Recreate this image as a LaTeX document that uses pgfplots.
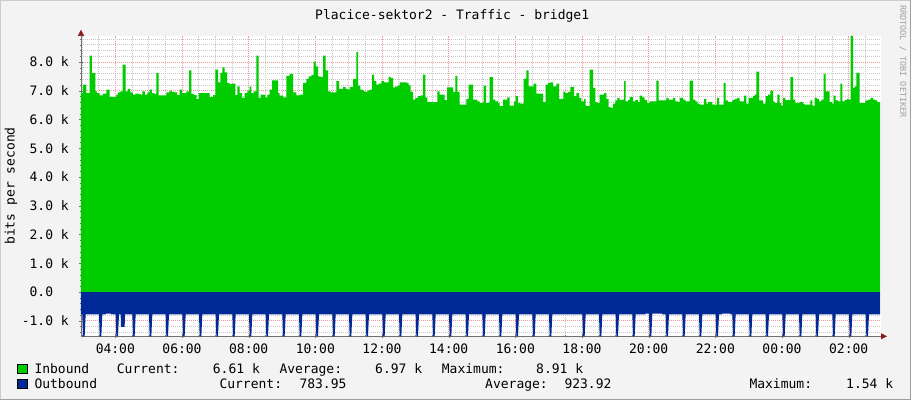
\documentclass[border=0pt]{standalone}
\usepackage{fontspec}
\setmainfont{DejaVu Sans Mono}
\usepackage{pgfplots}
\pgfplotsset{compat=1.18}
\usetikzlibrary{arrows.meta}

\definecolor{rrdbg}{HTML}{F3F3F3}
\definecolor{inbound}{HTML}{00CC00}
\definecolor{outbound}{HTML}{002A97}
\definecolor{gridminor}{HTML}{C8C8C8}
\definecolor{gridmajor}{HTML}{F29898}
\definecolor{axisgray}{HTML}{707070}
\definecolor{arrowred}{HTML}{8B1A1A}
\definecolor{wmark}{HTML}{A0A0A0}

\newcommand\rrdfont{\fontsize{13}{15}\selectfont}

\begin{document}
\begin{tikzpicture}[x=1pt,y=1pt]
\useasboundingbox (0,0) rectangle (911,400);
\fill[rrdbg] (0,0) rectangle (911,400);
\draw[line width=1pt,color=gray!40] (0.5,0) -- (0.5,399.5) -- (911,399.5);
\draw[line width=1.5pt,color=gray!75] (0,0.75) -- (910.25,0.75) -- (910.25,400);

\begin{axis}[
    at={(81pt,63.7pt)}, anchor=south west,
    scale only axis, width=800pt, height=300.5pt,
    xmin=2.97, xmax=26.97, ymin=-1.54, ymax=8.91,
    axis background/.style={fill=white},
    axis x line=bottom, axis y line=left,
    x axis line style={draw=axisgray, shorten >=-6pt, -{Triangle[length=6pt,width=6pt,color=arrowred]}},
    y axis line style={draw=axisgray, shorten >=-6pt, -{Triangle[length=6pt,width=6pt,color=arrowred]}},
    xtick={4,6,...,26},
    xticklabels={04:00,06:00,08:00,10:00,12:00,14:00,16:00,18:00,20:00,22:00,00:00,02:00},
    minor xtick={3,3.5,...,26.5},
    ytick={-1,0,1,2,3,4,5,6,7,8},
    yticklabels={-1.0 k,0.0\hphantom{kk},1.0 k,2.0 k,3.0 k,4.0 k,5.0 k,6.0 k,7.0 k,8.0 k},
    minor ytick={-1.4,-1.2,...,8.81},
    tick label style={font=\rrdfont, inner sep=0pt},
    xticklabel style={anchor=north, yshift=-5.4pt},
    yticklabel style={anchor=east, xshift=-10pt},
    tick style={draw=axisgray},
    major tick length=4pt, minor tick length=2pt, tick align=center,
    grid=both,
    minor grid style={draw=gridminor, line width=0.6pt, dash pattern=on 1pt off 1pt},
    major grid style={draw=gridmajor, line width=0.6pt, dash pattern=on 1pt off 1pt},
    clip=true,
]

% Inbound, k bits per second, 5-minute samples (value held to next sample)
\addplot[const plot mark left, draw=none, fill=inbound] coordinates {
(2.97,0) (2.97,6.92) (3.03,7.21) (3.13,6.92) (3.23,8.22) (3.30,7.61) (3.40,6.98) (3.45,6.92)
(3.53,6.84) (3.63,6.90) (3.73,7.04) (3.83,6.79) (4.03,6.86) (4.08,6.94) (4.15,6.98) (4.22,7.91)
(4.31,6.98) (4.38,7.06) (4.45,6.94) (4.53,6.86) (4.60,6.90) (4.68,6.89) (4.75,6.86) (4.81,6.98)
(4.89,6.86) (4.96,6.94) (5.03,7.04) (5.10,6.92) (5.16,6.90) (5.23,7.62) (5.30,6.84) (5.53,6.94)
(5.63,7.00) (5.70,6.96) (5.78,6.94) (5.85,6.85) (5.93,7.04) (6.00,6.92) (6.13,6.98) (6.21,7.71)
(6.28,6.89) (6.36,6.85) (6.44,6.71) (6.50,6.92) (6.83,6.78) (6.93,6.85) (7.00,7.73) (7.08,7.29)
(7.15,7.62) (7.21,7.81) (7.28,7.64) (7.35,7.27) (7.43,7.23) (7.50,7.25) (7.60,6.85) (7.66,7.15)
(7.73,6.92) (7.80,6.75) (7.88,6.92) (7.96,7.00) (8.03,7.15) (8.08,6.92) (8.15,6.98) (8.23,8.22)
(8.30,6.75) (8.36,6.86) (8.50,6.77) (8.56,6.86) (8.63,7.04) (8.70,7.36) (8.88,6.92) (8.93,6.83)
(9.03,6.77) (9.13,7.52) (9.23,7.59) (9.33,6.94) (9.43,6.84) (9.53,6.86) (9.63,7.27) (9.73,7.41)
(9.80,7.50) (9.88,7.54) (9.95,8.01) (10.01,7.85) (10.08,7.50) (10.15,7.48) (10.23,8.22) (10.31,7.71)
(10.38,6.98) (10.45,6.94) (10.63,7.33) (10.71,7.06) (10.83,7.13) (10.91,7.06) (10.98,7.04) (11.03,7.13)
(11.13,7.41) (11.23,8.34) (11.28,7.18) (11.35,7.04) (11.43,6.99) (11.48,6.96) (11.56,7.01) (11.63,7.04)
(11.70,7.56) (11.76,7.33) (11.83,7.21) (11.90,7.25) (11.98,7.33) (12.06,7.29) (12.20,7.48) (12.26,7.45)
(12.33,7.12) (12.40,7.15) (12.48,7.18) (12.53,7.29) (12.73,7.27) (12.80,7.19) (12.86,6.97) (12.93,6.69)
(13.00,6.75) (13.08,6.81) (13.16,6.84) (13.23,7.56) (13.30,6.77) (13.36,6.60) (13.66,6.98) (13.73,6.86)
(13.88,6.67) (13.95,7.12) (14.13,6.96) (14.20,7.52) (14.26,6.96) (14.33,6.52) (14.53,6.72) (14.60,7.21)
(14.73,6.69) (14.86,6.63) (14.93,6.57) (15.00,6.59) (15.05,7.18) (15.12,6.57) (15.18,6.59) (15.23,7.47)
(15.33,6.69) (15.40,6.63) (15.48,6.57) (15.53,6.46) (15.63,6.69) (15.76,6.77) (15.83,6.48) (15.96,6.63)
(16.01,6.81) (16.08,6.57) (16.15,6.55) (16.25,7.42) (16.33,7.71) (16.40,7.15) (16.55,7.25) (16.63,6.90)
(16.83,6.60) (16.91,7.21) (16.98,7.27) (17.05,7.29) (17.13,7.15) (17.23,7.25) (17.31,6.72) (17.44,6.97)
(17.50,6.92) (17.58,6.96) (17.65,7.13) (17.76,6.81) (17.83,6.92) (17.91,6.75) (17.98,6.63) (18.06,6.71)
(18.11,6.48) (18.16,6.46) (18.23,7.73) (18.33,7.10) (18.40,6.60) (18.46,6.57) (18.53,6.86) (18.66,6.92)
(18.73,6.71) (18.80,6.43) (18.86,6.40) (18.93,6.55) (19.00,6.66) (19.06,6.75) (19.13,6.67) (19.20,6.69)
(19.26,7.33) (19.31,6.63) (19.38,6.67) (19.43,6.78) (19.53,6.63) (19.60,6.67) (19.68,6.60) (19.73,6.83)
(19.81,6.77) (19.88,6.67) (19.95,6.57) (20.03,6.63) (20.23,7.35) (20.30,6.66) (20.53,6.75) (20.60,6.69)
(20.73,6.75) (20.80,6.63) (20.88,6.60) (20.93,6.75) (21.03,6.69) (21.10,6.63) (21.23,7.35) (21.33,6.69)
(21.40,6.63) (21.46,6.55) (21.53,6.52) (21.66,6.71) (21.73,6.55) (21.78,6.60) (21.91,6.52) (22.05,6.75)
(22.11,6.52) (22.25,7.27) (22.31,6.66) (22.38,6.60) (22.51,6.67) (22.58,6.72) (22.66,6.75) (22.73,6.63)
(22.86,6.83) (22.93,6.55) (23.00,6.75) (23.13,6.81) (23.18,6.86) (23.23,7.66) (23.31,6.66) (23.43,6.55)
(23.51,6.81) (23.58,6.86) (23.65,7.00) (23.73,6.63) (23.78,6.57) (23.86,6.86) (23.93,6.57) (23.98,6.48)
(24.03,6.75) (24.10,6.67) (24.25,7.47) (24.33,6.69) (24.40,6.57) (24.53,6.60) (24.63,6.55) (24.68,6.52)
(24.85,6.66) (24.91,6.48) (24.98,6.75) (25.05,6.71) (25.11,6.63) (25.18,6.69) (25.25,7.59) (25.31,6.98)
(25.43,6.60) (25.50,6.55) (25.55,6.83) (25.61,6.66) (25.68,6.63) (25.75,7.25) (25.81,6.63) (25.88,6.67)
(25.95,6.72) (26.00,6.69) (26.06,8.91) (26.13,7.10) (26.18,7.15) (26.23,7.62) (26.33,6.57) (26.50,6.66)
(26.58,6.69) (26.66,6.75) (26.73,6.69) (26.80,6.66) (26.86,6.60) (26.94,6.60) (26.94,0)
};

% Outbound, drawn below zero, with its half-hourly peaks
\addplot[sharp plot, draw=none, fill=outbound] coordinates {
(2.97,0) (2.97,-0.78)
(3.01,-0.78) (3.03,-1.54) (3.08,-1.54) (3.11,-0.78)
(3.51,-0.78) (3.53,-1.54) (3.58,-1.54) (3.61,-0.78)
(3.72,-0.78) (3.72,-0.75) (3.87,-0.75) (3.87,-0.78)
(4.01,-0.78) (4.03,-1.54) (4.08,-1.54) (4.11,-0.78)
(4.16,-0.78) (4.17,-1.21) (4.28,-1.21) (4.29,-0.78)
(4.51,-0.78) (4.53,-1.54) (4.58,-1.54) (4.61,-0.78)
(5.01,-0.78) (5.03,-1.54) (5.08,-1.54) (5.11,-0.78)
(5.51,-0.78) (5.53,-1.54) (5.58,-1.54) (5.61,-0.78)
(6.01,-0.78) (6.03,-1.54) (6.08,-1.54) (6.11,-0.78)
(6.51,-0.78) (6.53,-1.54) (6.58,-1.54) (6.61,-0.78)
(7.01,-0.78) (7.03,-1.54) (7.08,-1.54) (7.11,-0.78)
(7.51,-0.78) (7.53,-1.54) (7.58,-1.54) (7.61,-0.78)
(8.01,-0.78) (8.03,-1.54) (8.08,-1.54) (8.11,-0.78)
(8.51,-0.78) (8.53,-1.54) (8.58,-1.54) (8.61,-0.78)
(9.01,-0.78) (9.03,-1.54) (9.08,-1.54) (9.11,-0.78)
(9.51,-0.78) (9.53,-1.54) (9.58,-1.54) (9.61,-0.78)
(10.01,-0.78) (10.03,-1.54) (10.08,-1.54) (10.11,-0.78)
(10.51,-0.78) (10.53,-1.54) (10.58,-1.54) (10.61,-0.78)
(11.01,-0.78) (11.03,-1.54) (11.08,-1.54) (11.11,-0.78)
(11.51,-0.78) (11.53,-1.54) (11.58,-1.54) (11.61,-0.78)
(12.01,-0.78) (12.03,-1.54) (12.08,-1.54) (12.11,-0.78)
(12.51,-0.78) (12.53,-1.54) (12.58,-1.54) (12.61,-0.78)
(13.01,-0.78) (13.03,-1.54) (13.08,-1.54) (13.11,-0.78)
(13.51,-0.78) (13.53,-1.54) (13.58,-1.54) (13.61,-0.78)
(14.01,-0.78) (14.03,-1.54) (14.08,-1.54) (14.11,-0.78)
(14.51,-0.78) (14.53,-1.54) (14.58,-1.54) (14.61,-0.78)
(15.01,-0.78) (15.03,-1.54) (15.08,-1.54) (15.11,-0.78)
(15.51,-0.78) (15.53,-1.54) (15.58,-1.54) (15.61,-0.78)
(16.01,-0.78) (16.03,-1.54) (16.08,-1.54) (16.11,-0.78)
(16.51,-0.78) (16.53,-1.54) (16.58,-1.54) (16.61,-0.78)
(17.01,-0.78) (17.03,-1.54) (17.08,-1.54) (17.11,-0.78)
(18.01,-0.78) (18.03,-1.54) (18.08,-1.54) (18.11,-0.78)
(18.51,-0.78) (18.53,-1.54) (18.58,-1.54) (18.61,-0.78)
(19.01,-0.78) (19.03,-1.54) (19.08,-1.54) (19.11,-0.78)
(19.51,-0.78) (19.53,-1.54) (19.58,-1.54) (19.61,-0.78)
(19.90,-0.78) (19.90,-0.75) (20.01,-0.75) (20.03,-1.54) (20.08,-1.54) (20.11,-0.75) (20.40,-0.75) (20.40,-0.78)
(20.51,-0.78) (20.53,-1.54) (20.58,-1.54) (20.61,-0.78)
(21.01,-0.78) (21.03,-1.54) (21.08,-1.54) (21.11,-0.78)
(21.51,-0.78) (21.53,-1.54) (21.58,-1.54) (21.61,-0.78)
(22.01,-0.78) (22.03,-1.54) (22.08,-1.54) (22.11,-0.78)
(22.20,-0.78) (22.20,-0.75) (22.45,-0.75) (22.45,-0.78)
(22.51,-0.78) (22.53,-1.54) (22.58,-1.54) (22.61,-0.78)
(23.01,-0.78) (23.03,-1.54) (23.08,-1.54) (23.11,-0.78)
(23.51,-0.78) (23.53,-1.54) (23.58,-1.54) (23.61,-0.78)
(24.01,-0.78) (24.03,-1.54) (24.08,-1.54) (24.11,-0.78)
(24.51,-0.78) (24.53,-1.54) (24.58,-1.54) (24.61,-0.78)
(25.01,-0.78) (25.03,-1.54) (25.08,-1.54) (25.11,-0.78)
(25.51,-0.78) (25.53,-1.54) (25.58,-1.54) (25.61,-0.78)
(26.01,-0.78) (26.03,-1.54) (26.08,-1.54) (26.11,-0.78)
(26.51,-0.78) (26.53,-1.54) (26.58,-1.54) (26.61,-0.78)
(26.94,-0.78) (26.94,0)
};
\end{axis}

% title, axis label, watermark
\node[anchor=base west, inner sep=0pt, font=\rrdfont] at (315,380.7) {Placice-sektor2 - Traffic - bridge1};
\node[rotate=90, inner sep=0pt, font=\rrdfont] at (11,214) {bits per second};
\node[rotate=-90, anchor=west, inner sep=0pt, text=wmark, font=\fontsize{8.5}{10}\selectfont] at (903,395) {RRDTOOL / TOBI OETIKER};

% legend
\filldraw[fill=inbound, draw=black, line width=0.8pt] (17.5,26.7) rectangle (27.5,36);
\filldraw[fill=outbound, draw=black, line width=0.8pt] (17.5,11.3) rectangle (27.5,20.7);
\begin{scope}[every node/.style={anchor=base west, inner sep=0pt, font=\rrdfont}]
\node at (34.3,26.7) {Inbound};
\node at (116.7,26.7) {Current:};
\node at (212.7,26.7) {6.61 k};
\node at (279.3,26.7) {Average:};
\node at (375,26.7) {6.97 k};
\node at (441.7,26.7) {Maximum:};
\node at (536,26.7) {8.91 k};
\node at (34.3,11.3) {Outbound};
\node at (219.3,11.3) {Current:};
\node at (299.3,11.3) {783.95};
\node at (485,11.3) {Average:};
\node at (564.3,11.3) {923.92};
\node at (749.3,11.3) {Maximum:};
\node at (846,11.3) {1.54 k};
\end{scope}
\end{tikzpicture}
\end{document}
